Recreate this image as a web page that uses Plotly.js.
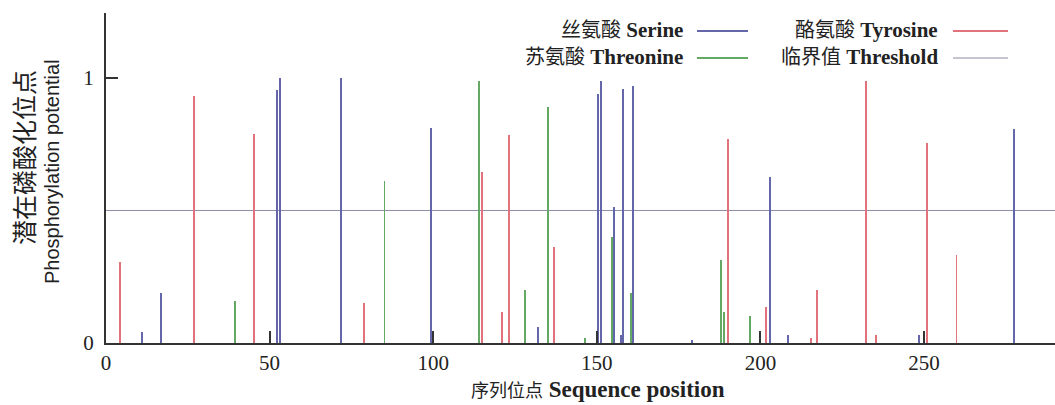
<!DOCTYPE html>
<html>
<head>
<meta charset="utf-8">
<script src="https://cdn.plot.ly/plotly-3.0.1.min.js"></script>
<style>html,body{margin:0;padding:0;background:#fff;}#chart{width:1055px;height:405px;}</style>
</head>
<body>
<div id="chart"></div>
<script>
// ---- data ----
const serineX   = [11.1, 16.9, 52.2, 53.3, 71.9, 99.4, 132.0, 150.2, 151.3, 155.3, 157.5, 158.1, 161.1, 179.2, 202.9, 208.3, 248.3, 277.5];
const serineY   = [0.04, 0.19, 0.955, 1.0, 1.0, 0.81, 0.06, 0.94, 0.99, 0.514, 0.03, 0.96, 0.97, 0.01, 0.628, 0.03, 0.03, 0.806];
const threonineX = [39.4, 85.1, 114.1, 128.0, 135.0, 146.5, 154.5, 160.4, 187.9, 188.9, 196.9];
const threonineY = [0.16, 0.61, 0.99, 0.20, 0.89, 0.02, 0.40, 0.19, 0.313, 0.118, 0.10];
const tyrosineX = [4.2, 26.9, 45.2, 78.8, 114.9, 121.1, 123.1, 137.0, 190.2, 201.8, 215.4, 217.4, 232.2, 235.3, 251.0, 259.9];
const tyrosineY = [0.307, 0.93, 0.79, 0.15, 0.646, 0.118, 0.785, 0.363, 0.77, 0.137, 0.02, 0.20, 0.99, 0.03, 0.756, 0.332];
const threshold = 0.5;
const xTicks = [0, 50, 100, 150, 200, 250];
const yTicks = [0, 1];
const seriesNames = ['丝氨酸 Serine', '苏氨酸 Threonine', '酪氨酸 Tyrosine', '临界值 Threshold'];

// ---- styling ----
const W = 1055, H = 405, L = 106, R = 0, T = 13, B = 62;
const colSer = '#6367a9', colThr = '#63a863', colTyr = '#e2727c', colThresh = '#8c8ca4';
const serif = '"Liberation Serif", "Noto Sans CJK SC", serif';
const sans = '"Liberation Sans", "Noto Sans CJK SC", sans-serif';
const px2x = p => (p - L) / (W - L - R);
const px2y = p => (H - B - p) / (H - T - B);

function bars(x, y, c, name) {
  return {type: 'bar', x: x, y: y, width: 0.6, name: name, marker: {color: c, line: {width: 0}}, showlegend: false, hoverinfo: 'x+y'};
}
const traces = [
  bars(serineX, serineY, colSer, seriesNames[0]),
  bars(threonineX, threonineY, colThr, seriesNames[1]),
  bars(tyrosineX, tyrosineY, colTyr, seriesNames[2])
];

function legendText(txt, rightPx, yPx) {
  const parts = txt.split(' ');
  return {xref: 'paper', yref: 'paper', x: px2x(rightPx), y: px2y(yPx), xanchor: 'right', yanchor: 'middle', showarrow: false,
    text: '<span style="font-size:20px">' + parts[0] + '</span> <b>' + parts.slice(1).join(' ') + '</b>',
    font: {family: serif, size: 21, color: '#222'}};
}
function legendLine(x0, x1, yPx, c, w) {
  return {type: 'line', xref: 'paper', yref: 'paper', x0: px2x(x0), x1: px2x(x1), y0: px2y(yPx), y1: px2y(yPx), line: {color: c, width: w}};
}

const layout = {
  width: W, height: H,
  margin: {l: L, r: R, t: T, b: B, pad: 0},
  paper_bgcolor: '#fff', plot_bgcolor: '#fff',
  barmode: 'overlay', bargap: 0,
  showlegend: false,
  font: {family: serif, size: 21, color: '#222'},
  xaxis: {range: [0, 290], tickvals: xTicks, ticktext: xTicks.map(String), ticks: 'inside', ticklen: 12, tickwidth: 2, tickcolor: '#333',
    showline: true, linecolor: '#333', linewidth: 2, showgrid: false, zeroline: false, ticklabelstandoff: 0,
    tickfont: {family: serif, size: 21, color: '#222'}},
  yaxis: {range: [0, 1.245], tickvals: yTicks, ticktext: yTicks.map(String), ticks: 'inside', ticklen: 12, tickwidth: 2, tickcolor: '#333',
    showline: true, linecolor: '#333', linewidth: 2, showgrid: false, zeroline: false, ticklabelstandoff: 6,
    tickfont: {family: serif, size: 21, color: '#222'}},
  shapes: [
    {type: 'line', xref: 'paper', yref: 'y', x0: 0, x1: 1, y0: threshold, y1: threshold, line: {color: colThresh, width: 1}, layer: 'below'},
    legendLine(697, 748, 31, colSer, 2),
    legendLine(697, 748, 58, colThr, 2),
    legendLine(953, 1008, 31, colTyr, 2),
    legendLine(953, 1008, 58, colThresh, 1.2)
  ],
  annotations: [
    legendText(seriesNames[0], 685, 30),
    legendText(seriesNames[1], 685, 57),
    legendText(seriesNames[2], 940, 30),
    legendText(seriesNames[3], 940, 57),
    {xref: 'paper', yref: 'paper', x: px2x(598), y: px2y(389), xanchor: 'center', yanchor: 'middle', showarrow: false,
      text: '<span style="font-size:18px">序列位点</span> <b>Sequence position</b>', font: {family: serif, size: 23, color: '#222'}},
    {xref: 'paper', yref: 'paper', x: px2x(25), y: px2y(158), xanchor: 'center', yanchor: 'middle', showarrow: false, textangle: -90,
      text: '潜在磷酸化位点', font: {family: sans, size: 25, color: '#222'}},
    {xref: 'paper', yref: 'paper', x: px2x(52), y: px2y(172), xanchor: 'center', yanchor: 'middle', showarrow: false, textangle: -90,
      text: 'Phosphorylation potential', font: {family: sans, size: 20, color: '#222'}}
  ]
};
Plotly.newPlot('chart', traces, layout, {staticPlot: true, displayModeBar: false});
</script>
</body>
</html>
